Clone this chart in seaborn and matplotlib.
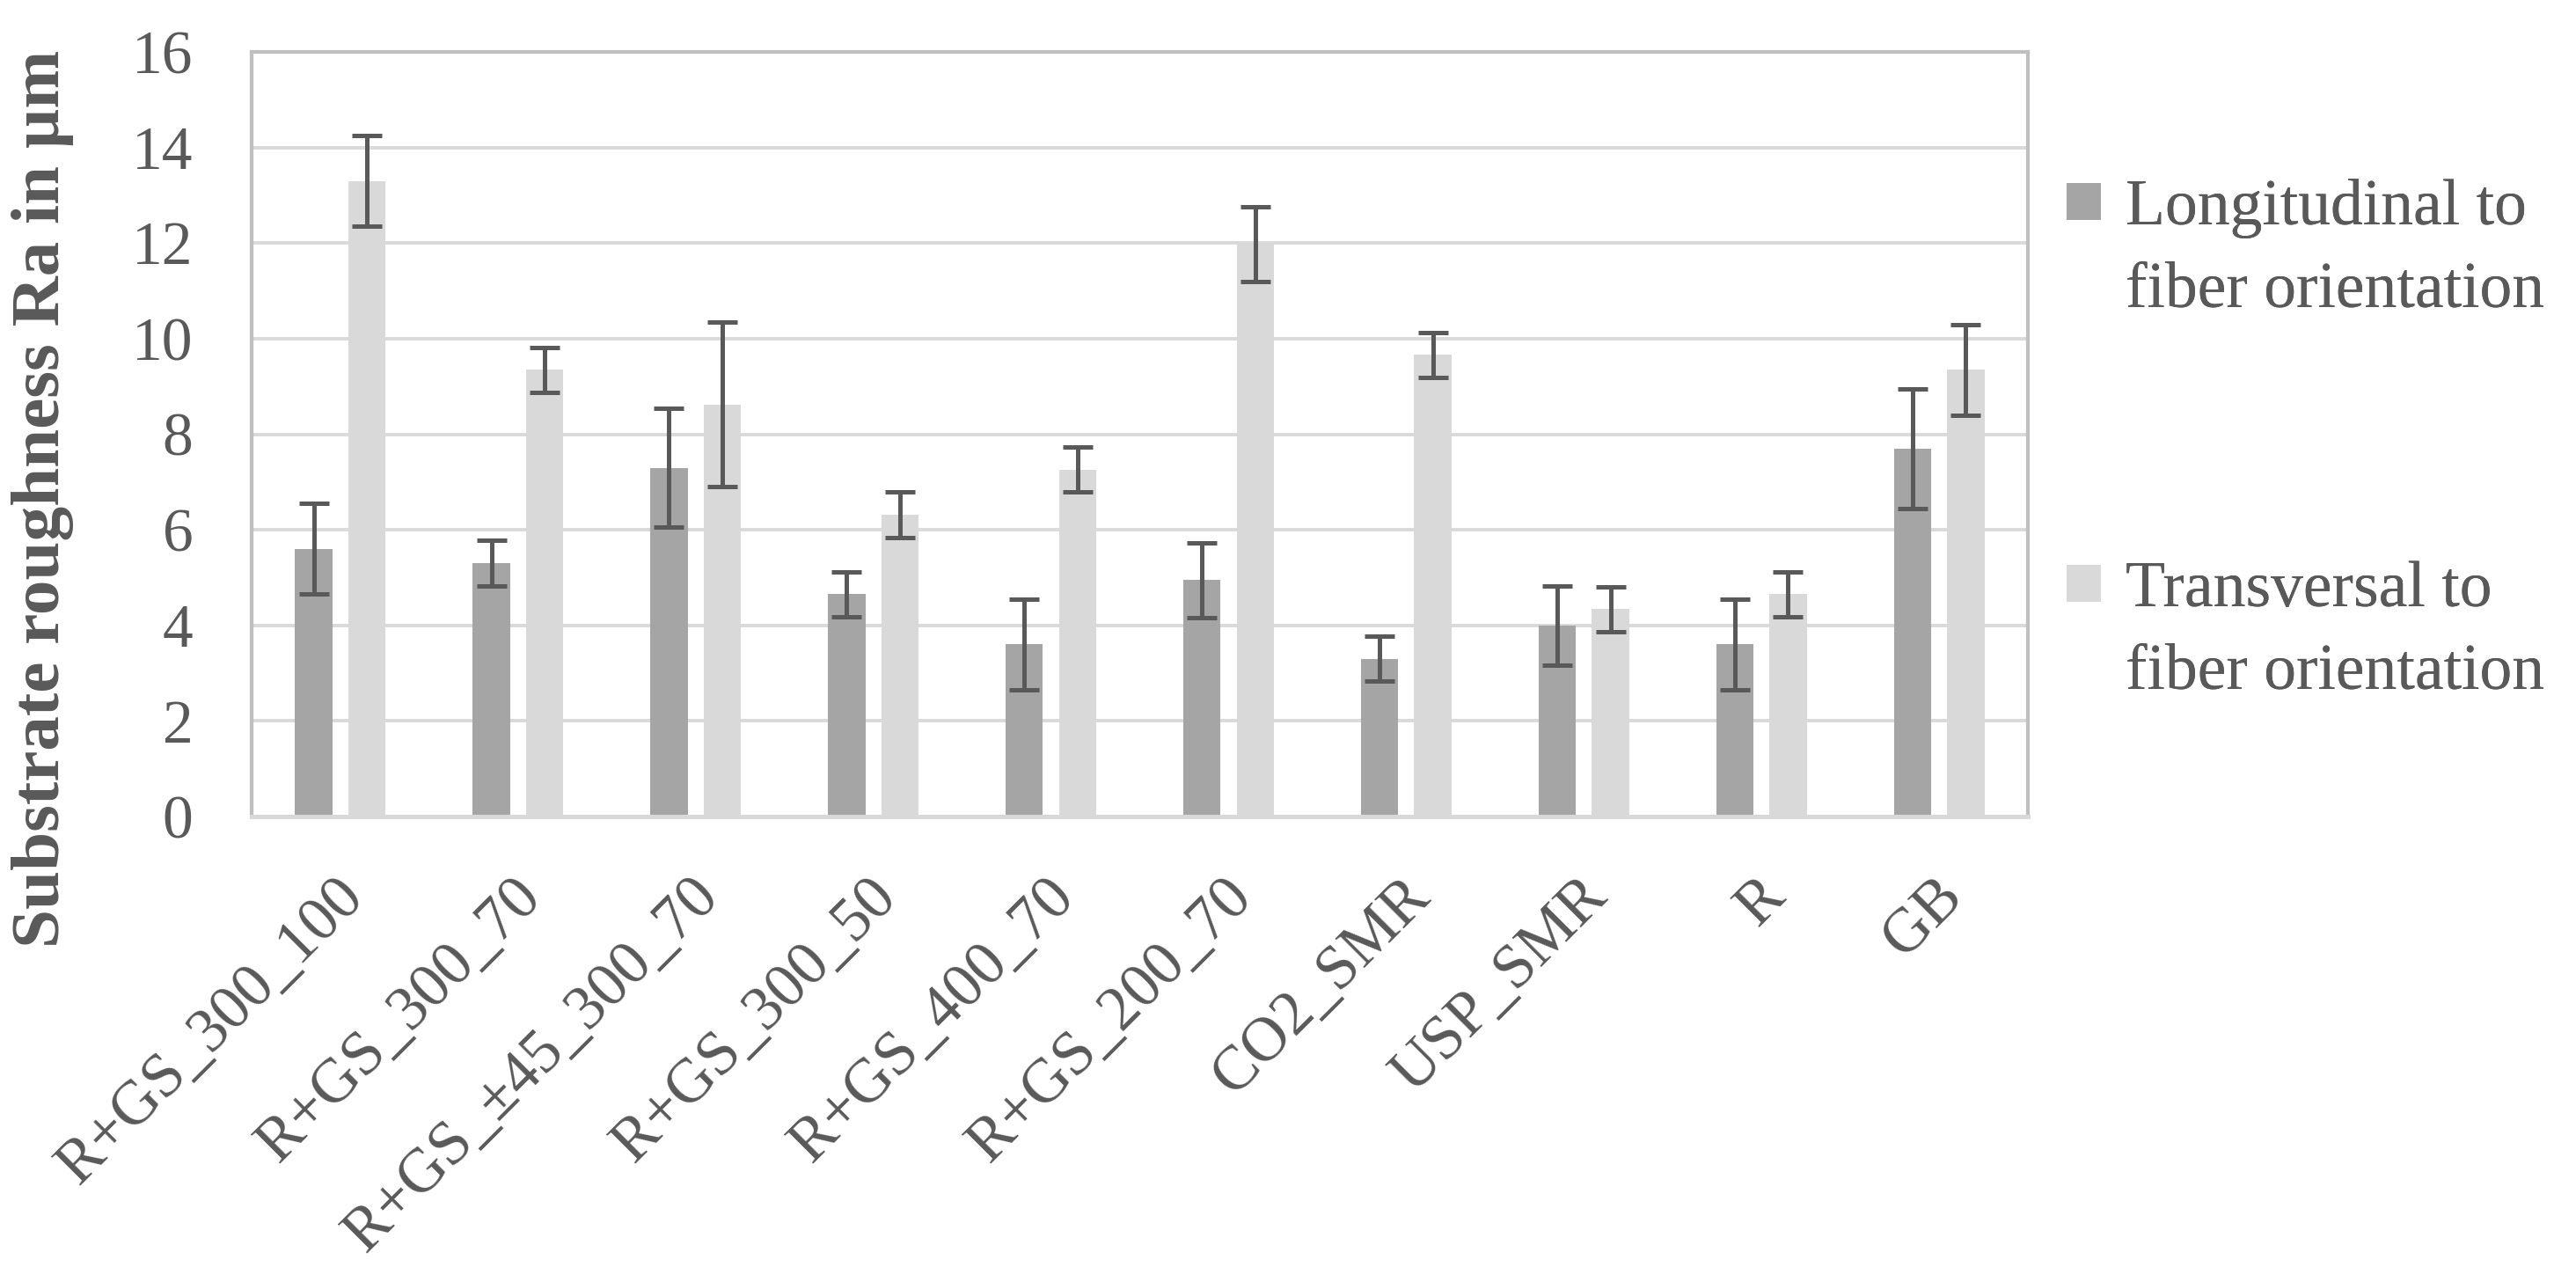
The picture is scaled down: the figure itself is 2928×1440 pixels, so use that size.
import matplotlib
matplotlib.use("Agg")
import matplotlib.pyplot as plt
import matplotlib.transforms as mtransforms
import seaborn as sns
import pandas as pd
from matplotlib.patches import Patch

# values
samples = ["R+GS_300_100", "R+GS_300_70", "R+GS_±45_300_70", "R+GS_300_50",
           "R+GS_400_70", "R+GS_200_70", "CO2_SMR", "USP_SMR", "R", "GB"]
long_ra = [5.6, 5.3, 7.3, 4.65, 3.6, 4.95, 3.3, 4.0, 3.6, 7.7]
long_err = [0.95, 0.48, 1.25, 0.47, 0.94, 0.78, 0.47, 0.83, 0.94, 1.25]
trans_ra = [13.3, 9.35, 8.62, 6.32, 7.26, 11.98, 9.66, 4.34, 4.65, 9.35]
trans_err = [0.95, 0.47, 1.72, 0.48, 0.47, 0.78, 0.47, 0.47, 0.47, 0.95]

series = ["Longitudinal to fiber orientation", "Transversal to fiber orientation"]
colors = ["#a5a5a5", "#d9d9d9"]
text_col = "#595959"

df = pd.DataFrame({
    "sample": samples * 2,
    "ra": long_ra + trans_ra,
    "err": long_err + trans_err,
    "orientation": [series[0]] * len(samples) + [series[1]] * len(samples),
})

sns.set_style("white")
plt.rcParams["font.family"] = ["Liberation Serif", "DejaVu Serif"]
plt.rcParams["text.color"] = text_col
plt.rcParams["axes.labelcolor"] = text_col

fig = plt.figure(figsize=(14.64, 7.2), dpi=200)
ax = fig.add_axes([286 / 2928, 1 - 928 / 1440, (2305 - 286) / 2928, (928 - 59) / 1440])

sns.barplot(data=df, x="sample", y="ra", hue="orientation", palette=colors,
            width=0.6, gap=0.3, saturation=1, errorbar=None, legend=False, ax=ax,
            linewidth=0)

# error bars on top of each bar, positions taken from the drawn bars
for cont, vals, errs in zip(ax.containers, [long_ra, trans_ra], [long_err, trans_err]):
    xs = [b.get_x() + b.get_width() / 2 for b in cont]
    ax.errorbar(xs, vals, yerr=errs, fmt="none", ecolor="#595959",
                elinewidth=1.8, capsize=6.1, capthick=1.8, zorder=5)

ax.set_ylim(0, 16)
ax.set_yticks(range(0, 17, 2))
ax.set_xlim(-0.5, len(samples) - 0.5)
ax.set_axisbelow(True)
ax.grid(axis="y", color="#d9d9d9", linewidth=1.4)
ax.grid(axis="x", visible=False)

for side in ["left", "top", "right"]:
    ax.spines[side].set_color("#bfbfbf")
    ax.spines[side].set_linewidth(1.5)
ax.spines["bottom"].set_color("#d9d9d9")
ax.spines["bottom"].set_linewidth(1.8)

ax.tick_params(axis="y", length=0, pad=24, labelsize=25, labelcolor=text_col)
ax.tick_params(axis="x", length=0, pad=29, labelsize=25.5, labelcolor=text_col)
shift = mtransforms.ScaledTranslation(6 / 72, 0, fig.dpi_scale_trans)
for lab in ax.get_xticklabels():
    lab.set_rotation(45)
    lab.set_ha("right")
    lab.set_va("center")
    lab.set_rotation_mode("anchor")
    lab.set_transform(lab.get_transform() + shift)

ax.set_xlabel("")
ax.set_ylabel("Substrate roughness Ra in µm", fontsize=28.5, fontweight="bold", color=text_col)
ax.yaxis.set_label_coords(-0.100, 0.415)

# legend: handle sits on the first line of each two-line label
blank = Patch(facecolor="none", edgecolor="none")
for i, (col, y0) in enumerate(zip(colors, [203, 638])):
    words = series[i].split(" ", 2)
    lines = [" ".join(words[:2]), words[2]]
    leg = fig.legend(handles=[Patch(facecolor=col, edgecolor="none"), blank],
                     labels=lines, loc="upper left",
                     bbox_to_anchor=(2349 / 2928, 1 - y0 / 1440),
                     frameon=False, fontsize=26.5, handlelength=0.53, handleheight=0.5,
                     handletextpad=0.38, labelspacing=0.35, borderpad=0, borderaxespad=0)
    for t in leg.get_texts():
        t.set_color(text_col)
    fig.add_artist(leg)

fig.savefig("out.png", dpi=200)
